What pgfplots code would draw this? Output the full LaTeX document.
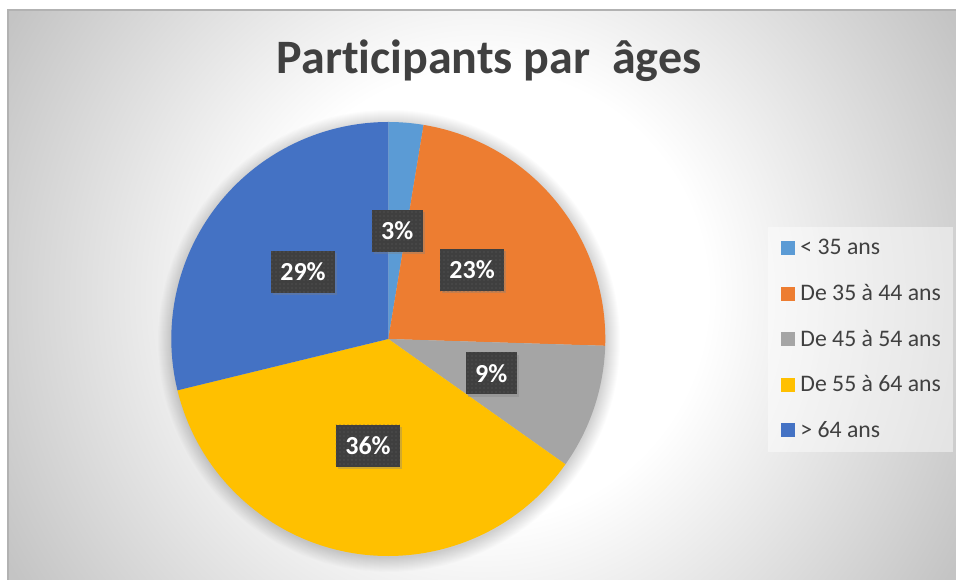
\documentclass[border=0pt]{standalone}
\usepackage{pgfplots}
\pgfplotsset{compat=1.18}
\usepackage{pgfplotstable}
\usepackage{fontspec}
\setmainfont{Carlito}[Ligatures=NoCommon]
\usetikzlibrary{shadows,patterns}

\definecolor{cA}{HTML}{5B9BD5}
\definecolor{cB}{HTML}{ED7D31}
\definecolor{cC}{HTML}{A5A5A5}
\definecolor{cD}{HTML}{FFC000}
\definecolor{cE}{HTML}{4472C4}
\definecolor{txt}{HTML}{404040}
\definecolor{bgedge}{HTML}{C4C4C4}
\definecolor{lblc}{HTML}{3F3F3F}
\definecolor{dotc}{HTML}{5E5E5E}

\pgfdeclareradialshading{bgshade}{\pgfpoint{0bp}{0bp}}{color(0bp)=(white); color(9.7bp)=(white); color(23.5bp)=(bgedge); color(50bp)=(bgedge)}

% share of each age group (percent)
\pgfplotstableread{
slice value
0 2.6
1 22.9
2 9.3
3 36.4
4 28.8
}\agedata

\newcommand\slice[3]{%
  \fill[#1] (axis cs:0,0) -- (axis cs:{cos(#2)},{sin(#2)})
    arc[start angle=#2, end angle=#3, radius=162.75pt] -- cycle;}
\newcommand\slicelabel[2]{%
  \node[lbl] at (axis cs:{0.5*cos(#1)},{0.5*sin(#1)})
    {\pgfmathprintnumber[fixed,precision=0,assume math mode=true]{#2}\%};}

\begin{document}
\begin{tikzpicture}[x=0.75pt,y=0.75pt,
  lbl/.style={fill=lblc, text=white, font=\bfseries\fontsize{19.5}{22}\selectfont,
    inner xsep=7pt, inner ysep=0pt, minimum height=31.5pt,
    drop shadow={shadow xshift=1.6pt, shadow yshift=-1.6pt, opacity=0.35},
    postaction={pattern=dots, pattern color=dotc}}]
% canvas
\path[use as bounding box] (0,0) rectangle (956,580);
\fill[white] (0,0) rectangle (956,580);
\begin{scope}
  \clip (8,0) rectangle (956,570);
  \shade[shading=bgshade] (482,285) circle (580);
\end{scope}
\draw[gray!60, line width=1.2] (8,0) -- (8,570) -- (956,570);
% soft shadow round the pie
\foreach \r in {0,...,14}{
  \fill[black, opacity=0.012] (389,239) circle ({217+\r});
}
% legend backdrop
\fill[white, opacity=0.45] (768,128) rectangle (953,353);
% title
\node[anchor=base, text=txt, font=\bfseries\fontsize{36}{40}\selectfont]
  at (489,506) {Participants par\ \ âges};

% angles from the data
\pgfmathsetmacro{\cum}{0}
\foreach \i/\L in {0/A,1/B,2/C,3/D,4/E}{%
  \pgfplotstablegetelem{\i}{value}\of\agedata
  \let\v\pgfplotsretval
  \pgfmathsetmacro{\st}{90-3.6*\cum}
  \pgfmathsetmacro{\en}{90-3.6*(\cum+\v)}
  \pgfmathsetmacro{\md}{(\st+\en)/2}
  \expandafter\xdef\csname st\L\endcsname{\st}%
  \expandafter\xdef\csname en\L\endcsname{\en}%
  \expandafter\xdef\csname md\L\endcsname{\md}%
  \expandafter\xdef\csname val\L\endcsname{\v}%
  \pgfmathsetmacro{\nc}{\cum+\v}%
  \xdef\cum{\nc}%
}

\begin{axis}[
  at={(291.225pt,180.75pt)}, anchor=center,
  width=325.5pt, height=325.5pt, scale only axis,
  xmin=-1, xmax=1, ymin=-1, ymax=1,
  hide axis, clip=false,
  legend image code/.code={\fill[#1] (0pt,-5.25pt) rectangle (10.5pt,5.25pt);},
  legend cell align=left,
  legend style={
    at={(axis description cs:1.4048,0.756)}, anchor=north west,
    draw=none, fill=none, inner sep=0pt,
    font=\fontsize{17.8}{20}\selectfont, text=txt,
    row sep=4.1pt,
    nodes={inner xsep=0pt, inner ysep=0pt, minimum height=30pt},
    /tikz/every odd column/.append style={column sep=3.9pt}},
]
\slice{cA}{\stA}{\enA}
\slice{cB}{\stB}{\enB}
\slice{cC}{\stC}{\enC}
\slice{cD}{\stD}{\enD}
\slice{cE}{\stE}{\enE}
\slicelabel{\mdA}{\valA}
\slicelabel{\mdB}{\valB}
\slicelabel{\mdC}{\valC}
\slicelabel{\mdD}{\valD}
\slicelabel{\mdE}{\valE}
\addlegendimage{fill=cA, draw=none}
\addlegendimage{fill=cB, draw=none}
\addlegendimage{fill=cC, draw=none}
\addlegendimage{fill=cD, draw=none}
\addlegendimage{fill=cE, draw=none}
\legend{< 35 ans, De 35 à 44 ans, De 45 à 54 ans, De 55 à 64 ans, > 64 ans}
\end{axis}
\end{tikzpicture}
\end{document}
